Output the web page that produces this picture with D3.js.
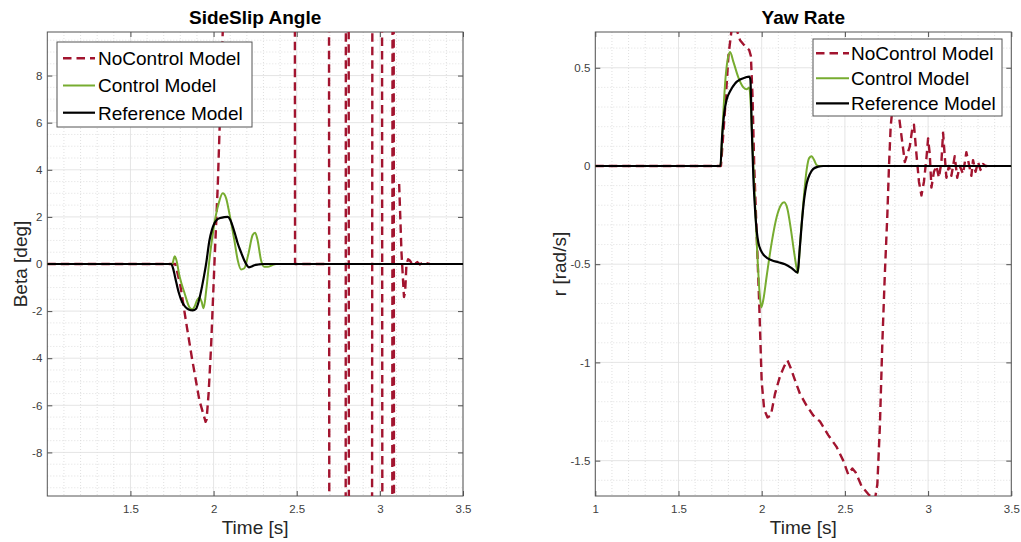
<!DOCTYPE html>
<html><head><meta charset="utf-8">
<script src="https://cdn.jsdelivr.net/npm/d3@7"></script>
<style>
body{margin:0;background:#fff;}
text{font-family:"Liberation Sans",Arial,Helvetica,sans-serif;}
</style></head><body>
<svg id="chart" width="1021" height="542"></svg>
<script>
// ---------- tick labels ----------
const timeTicksLeft  = [1.5, 2, 2.5, 3, 3.5];
const timeTicksRight = [1, 1.5, 2, 2.5, 3, 3.5];
const betaTicks = [-8, -6, -4, -2, 0, 2, 4, 6, 8];
const yawTicks  = [-1.5, -1, -0.5, 0, 0.5];
const seriesNames = ["NoControl Model", "Control Model", "Reference Model"];
const panelTitles = ["SideSlip Angle", "Yaw Rate"];
const axisLabels = ["Time [s]", "Beta [deg]", "r [rad/s]"];

// ---------- SideSlip angle (Beta, deg) ----------
const betaNoCtrlT = [1.0,1.77,1.80,1.84,1.87,1.915,1.952,1.958,1.97,1.985,2.005,2.025,2.055,2.07,2.10,2.30,2.486,2.49,2.60,2.69,2.691,2.692,2.698,2.75,2.793,2.797,2.805,2.811,2.815,2.90,2.951,2.957,2.985,3.011,3.017,3.045,3.073,3.078,3.081,3.087,3.10,3.108,3.116,3.13,3.145,3.152,3.16,3.17,3.18,3.19,3.20,3.21,3.225,3.24,3.255,3.27,3.285,3.30];
const betaNoCtrl  = [0,0,-0.9,-2.7,-4.0,-5.8,-6.7,-6.6,-5.5,-3.5,0,3.3,9.85,14,40,40,40,0,0,0,null,40,-40,-40,-40,40,40,40,-40,-40,-40,40,40,40,-40,-40,-40,40,40,-40,-40,null,3.4,0.5,-1.4,-1.2,0.0,0.2,0.15,0.05,0.1,0.0,0.08,-0.02,0.05,0.0,0.03,0];
const betaCtrlT = [1.0,1.752,1.76,1.766,1.775,1.796,1.826,1.856,1.872,1.885,1.90,1.915,1.928,1.94,1.956,1.975,2.005,2.031,2.055,2.075,2.095,2.125,2.145,2.165,2.185,2.21,2.235,2.25,2.265,2.285,2.305,2.325,2.355,2.375,3.5];
const betaCtrl  = [0,0,0.2,0.33,0.2,-0.54,-1.25,-1.85,-1.92,-1.82,-1.55,-1.42,-1.6,-1.88,-1.1,0.17,1.73,2.58,3.0,2.8,2.15,1.0,0.17,-0.23,-0.18,0.45,1.23,1.33,1.0,0.17,-0.12,-0.12,-0.04,0,0];
const betaRefT = [1.0,1.745,1.755,1.77,1.79,1.81,1.83,1.85,1.875,1.895,1.91,1.925,1.94,1.955,1.975,1.99,2.005,2.02,2.04,2.065,2.085,2.10,2.115,2.13,2.145,2.165,2.185,2.20,2.212,2.225,2.245,2.27,2.30,3.5];
const betaRef  = [0,0,-0.15,-0.6,-1.2,-1.6,-1.82,-1.93,-1.97,-1.9,-1.6,-1.15,-0.6,0,1.0,1.45,1.73,1.88,1.95,1.99,2.0,1.88,1.6,1.25,0.88,0.5,0.15,-0.05,-0.14,-0.12,-0.05,-0.02,0,0];

// ---------- Yaw rate (r, rad/s) ----------
const yawNoCtrlT = [1.0,1.755,1.78,1.80,1.82,1.84,1.87,1.90,1.925,1.935,1.945,1.955,1.97,1.985,2.0,2.015,2.035,2.055,2.08,2.11,2.135,2.155,2.175,2.20,2.23,2.27,2.31,2.35,2.40,2.45,2.49,2.52,2.545,2.565,2.60,2.64,2.68,2.695,2.71,2.725,2.74,2.755,2.765,2.775,2.79,2.81,2.83,2.845,2.86,2.875,2.89,2.905,2.915,2.93,2.945,2.96,2.975,2.99,3.0,3.01,3.02,3.035,3.05,3.065,3.08,3.09,3.10,3.11,3.125,3.14,3.16,3.175,3.19,3.21,3.23,3.245,3.26,3.27,3.285,3.30,3.315,3.33,3.345,3.355];
const yawNoCtrl  = [0,0,0.29,0.56,0.7,0.72,0.64,0.61,0.59,0.56,0.35,0.0,-0.35,-0.7,-1.1,-1.24,-1.28,-1.27,-1.16,-1.07,-1.02,-0.99,-1.03,-1.09,-1.16,-1.22,-1.27,-1.3,-1.37,-1.43,-1.5,-1.57,-1.54,-1.56,-1.63,-1.67,-1.7,-1.62,-1.33,-0.9,-0.55,-0.25,0,0.2,0.33,0.36,0.22,0.12,0.02,0.06,0.1,0.19,0.21,0.06,-0.08,-0.15,-0.08,0.04,0.14,0.06,-0.11,-0.03,0.0,-0.06,0.02,0.17,0.05,-0.06,0.0,-0.05,0.05,-0.06,0.0,-0.04,0.07,0.01,-0.05,0.03,-0.03,0.02,-0.02,0.01,0,0];
const yawCtrlT = [1.0,1.752,1.765,1.78,1.795,1.81,1.83,1.86,1.89,1.91,1.925,1.935,1.945,1.958,1.972,1.986,1.997,2.01,2.03,2.06,2.09,2.115,2.135,2.155,2.175,2.195,2.21,2.218,2.23,2.25,2.27,2.285,2.30,2.315,2.33,2.35,3.5];
const yawCtrl  = [0,0,0.2,0.42,0.54,0.58,0.53,0.45,0.4,0.39,0.4,0.3,0.1,-0.15,-0.42,-0.63,-0.72,-0.68,-0.56,-0.39,-0.26,-0.2,-0.185,-0.22,-0.32,-0.44,-0.52,-0.545,-0.4,-0.19,-0.02,0.04,0.05,0.03,0.005,0,0];
const yawRefT = [1.0,1.752,1.762,1.775,1.79,1.81,1.84,1.87,1.90,1.925,1.932,1.94,1.95,1.96,1.97,1.98,1.995,2.02,2.06,2.10,2.14,2.18,2.216,2.226,2.24,2.255,2.27,2.29,2.31,2.34,2.37,3.5];
const yawRef  = [0,0,0.15,0.27,0.34,0.38,0.42,0.44,0.45,0.455,0.44,0.2,-0.06,-0.22,-0.33,-0.39,-0.43,-0.46,-0.48,-0.49,-0.5,-0.52,-0.543,-0.45,-0.3,-0.17,-0.09,-0.04,-0.015,-0.003,0,0];

const colors = ["#A2142F", "#77AC30", "#000000"];
const widths = [2.4, 2.0, 2.2];
const dashes = ["8.5,5", null, null];

const svg = d3.select("#chart");
svg.append("rect").attr("width",1021).attr("height",542).attr("fill","#fff");
const defs = svg.append("defs");

function drawPanel(p){
  const x = d3.scaleLinear().domain(p.xDomain).range([p.left,p.right]);
  const y = d3.scaleLinear().domain(p.yDomain).range([p.bottom,p.top]);
  const g = svg.append("g");
  const cid = "clip-"+p.key;
  defs.append("clipPath").attr("id",cid).append("rect")
    .attr("x",p.left).attr("y",p.top).attr("width",p.right-p.left).attr("height",p.bottom-p.top);

  // minor grid
  const mg = g.append("g").attr("stroke","#d2d2d2").attr("stroke-width",0.7).attr("stroke-dasharray","1,2");
  mg.selectAll("line.vx").data(p.xMinor).join("line").attr("class","vx")
    .attr("x1",d=>x(d)).attr("x2",d=>x(d)).attr("y1",p.top).attr("y2",p.bottom);
  mg.selectAll("line.hy").data(p.yMinor).join("line").attr("class","hy")
    .attr("y1",d=>y(d)).attr("y2",d=>y(d)).attr("x1",p.left).attr("x2",p.right);
  // major grid
  const Mg = g.append("g").attr("stroke","#dedede").attr("stroke-width",0.8);
  Mg.selectAll("line.vx").data(p.xMajor).join("line").attr("class","vx")
    .attr("x1",d=>x(d)).attr("x2",d=>x(d)).attr("y1",p.top).attr("y2",p.bottom);
  Mg.selectAll("line.hy").data(p.yTicks).join("line").attr("class","hy")
    .attr("y1",d=>y(d)).attr("y2",d=>y(d)).attr("x1",p.left).attr("x2",p.right);

  // axes
  const fmt = d=>String(d);
  const styleAxis = a => {
    a.select(".domain").remove();
    a.selectAll(".tick line").attr("stroke","#262626").attr("stroke-width",0.8);
    a.selectAll(".tick text").attr("fill","#404040").style("font-size","11.5px")
      .style("font-family",'"Liberation Sans",Arial,sans-serif');
  };
  g.append("g").attr("transform",`translate(0,${p.bottom})`)
    .call(d3.axisBottom(x).tickValues(p.xTicks).tickSize(-5).tickPadding(9).tickFormat(fmt)).call(styleAxis);
  g.append("g").attr("transform",`translate(0,${p.top})`)
    .call(d3.axisTop(x).tickValues(p.xTicks).tickSize(-5).tickFormat("")).call(styleAxis);
  g.append("g").attr("transform",`translate(${p.left},0)`)
    .call(d3.axisLeft(y).tickValues(p.yTicks).tickSize(-5).tickPadding(5).tickFormat(fmt)).call(styleAxis);
  g.append("g").attr("transform",`translate(${p.right},0)`)
    .call(d3.axisRight(y).tickValues(p.yTicks).tickSize(-5).tickFormat("")).call(styleAxis);

  // box
  g.append("rect").attr("x",p.left).attr("y",p.top).attr("width",p.right-p.left).attr("height",p.bottom-p.top)
    .attr("fill","none").attr("stroke","#555").attr("stroke-width",1);

  // series
  const lg = g.append("g").attr("clip-path",`url(#${cid})`);
  p.series.forEach((s,i)=>{
    const pts = d3.zip(s.t, s.v);
    const line = d3.line().defined(d=>d[1]!==null)
      .x(d=>x(d[0])).y(d=>y(d[1]))
      .curve(i===0 ? d3.curveLinear : d3.curveMonotoneX);
    lg.append("path").datum(pts).attr("d",line)
      .attr("fill","none").attr("stroke",colors[i]).attr("stroke-width",widths[i])
      .attr("stroke-linejoin","round")
      .attr("stroke-dasharray",dashes[i]);
  });

  // title and labels
  g.append("text").attr("x",(p.left+p.right)/2).attr("y",24).attr("text-anchor","middle")
    .style("font-size","19px").style("font-weight","bold").attr("fill","#000").text(p.title);
  g.append("text").attr("x",(p.left+p.right)/2).attr("y",534).attr("text-anchor","middle")
    .style("font-size","19px").attr("fill","#262626").text(axisLabels[0]);
  g.append("text").attr("transform",`translate(${p.ylabX},${(p.top+p.bottom)/2}) rotate(-90)`)
    .attr("text-anchor","middle").style("font-size","19px").attr("fill","#262626").text(p.ylabel);

  // legend
  const L = p.legend;
  const leg = g.append("g");
  leg.append("rect").attr("x",L.x).attr("y",L.y).attr("width",L.w).attr("height",L.h)
    .attr("fill","#fff").attr("stroke","#555").attr("stroke-width",1);
  seriesNames.forEach((name,i)=>{
    const cy = L.y + L.r0 + i*L.dy;
    leg.append("line").attr("x1",L.x+L.lx0).attr("x2",L.x+L.lx1).attr("y1",cy).attr("y2",cy)
      .attr("stroke",colors[i]).attr("stroke-width",widths[i]).attr("stroke-dasharray",dashes[i]);
    leg.append("text").attr("x",L.x+L.tx).attr("y",cy+6.8).style("font-size","19px")
      .attr("fill","#000").text(name);
  });
}

const minorX = d3.range(11,35).filter(i=>i%5!==0).map(i=>i/10);

drawPanel({
  key:"beta", left:47.3, right:463, top:32, bottom:496,
  xDomain:[1,3.5], yDomain:[-9.85,9.85],
  xTicks:timeTicksLeft, xMajor:timeTicksLeft, yTicks:betaTicks,
  xMinor:minorX,
  yMinor:d3.range(-19,20).filter(i=>i%4!==0).map(i=>i/2),
  title:panelTitles[0], ylabel:axisLabels[1], ylabX:27,
  series:[{t:betaNoCtrlT,v:betaNoCtrl},{t:betaCtrlT,v:betaCtrl},{t:betaRefT,v:betaRef}],
  legend:{x:57,y:42,w:195,h:85,r0:16.3,dy:27.2,lx0:6,lx1:38,tx:41}
});
drawPanel({
  key:"yaw", left:595.3, right:1011.3, top:32, bottom:496,
  xDomain:[1,3.5], yDomain:[-1.68,0.682],
  xTicks:timeTicksRight, xMajor:timeTicksRight, yTicks:yawTicks,
  xMinor:minorX,
  yMinor:d3.range(-16,7).filter(i=>i%5!==0).map(i=>i/10),
  title:panelTitles[1], ylabel:axisLabels[2], ylabX:566,
  series:[{t:yawNoCtrlT,v:yawNoCtrl},{t:yawCtrlT,v:yawCtrl},{t:yawRefT,v:yawRef}],
  legend:{x:813,y:39,w:189,h:77,r0:14.3,dy:25,lx0:3,lx1:36,tx:38}
});
</script>
</body></html>
